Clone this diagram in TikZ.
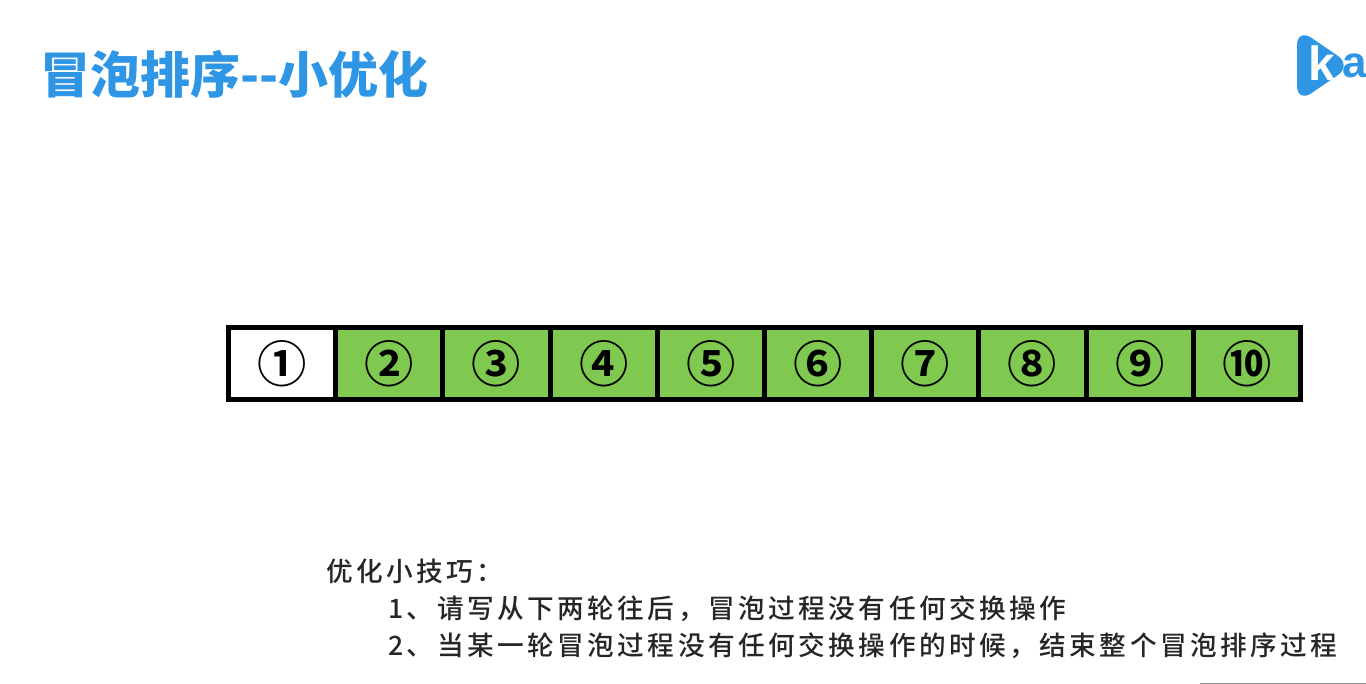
\documentclass[tikz,border=0pt]{standalone}
\usepackage{fontspec}
\setmainfont{Noto Sans CJK SC}
\newfontfamily\cjkBody[LetterSpace=13]{Noto Sans CJK SC Medium}
\newfontfamily\cjkTitle{Noto Sans CJK SC Black}
\newfontfamily\cjkNum{Noto Sans CJK SC Bold}
\newfontfamily\logoFont{Liberation Sans}
\definecolor{titleBlue}{HTML}{2F96E6}
\definecolor{cellGreen}{HTML}{7FC950}
\def\cellW{107.2}
\def\cellH{72}
\tikzset{
  cell/.style={draw=black, line width=3.75pt, minimum width=\cellW*0.75pt, minimum height=\cellH*0.75pt,
    inner sep=0pt, outer sep=0pt, font=\cjkNum\fontsize{37}{37}\selectfont},
  tip/.style={anchor=west, inner sep=0pt, font=\cjkBody\fontsize{20}{24}\selectfont, text=black!85},
}
\begin{document}
\begin{tikzpicture}[x=0.75pt, y=-0.75pt]
  \useasboundingbox (0,0) rectangle (1366,684);
  \node[anchor=west, inner sep=0pt, text=titleBlue, font=\cjkTitle\fontsize{37.5}{40}\selectfont] (title) at (40,74) {冒泡排序--小优化};
  % logo
  \fill[titleBlue, rounded corners=13pt] (1297,28) -- (1352,65.5) -- (1297,103) -- cycle;
  \node[inner sep=0pt, text=white, font=\logoFont\bfseries\fontsize{36}{36}\selectfont, anchor=base west] (logok) at (1308,81) {k};
  \node[inner sep=0pt, text=titleBlue, font=\logoFont\bfseries\fontsize{33}{33}\selectfont, anchor=base west] (logoa) at (1342,78) {a};
  % cells
  \node[cell, fill=white] (c1) at (228.5+0.5*\cellW,363.5) {①};
  \foreach \i/\n in {2/②,3/③,4/④,5/⑤,6/⑥,7/⑦,8/⑧,9/⑨,10/⑩} {
    \node[cell, fill=cellGreen] (c\i) at (228.5+\i*\cellW-0.5*\cellW,363.5) {\n};
  }
  \node[tip] (head) at (326,571.5) {优化小技巧：};
  \node[tip] (line1) at (388,608.5) {1、请写从下两轮往后，冒泡过程没有任何交换操作};
  \node[tip] (line2) at (388,645.5) {2、当某一轮冒泡过程没有任何交换操作的时候，结束整个冒泡排序过程};
  \fill[black!45] (1200,683) rectangle (1366,684);
\end{tikzpicture}
\end{document}
